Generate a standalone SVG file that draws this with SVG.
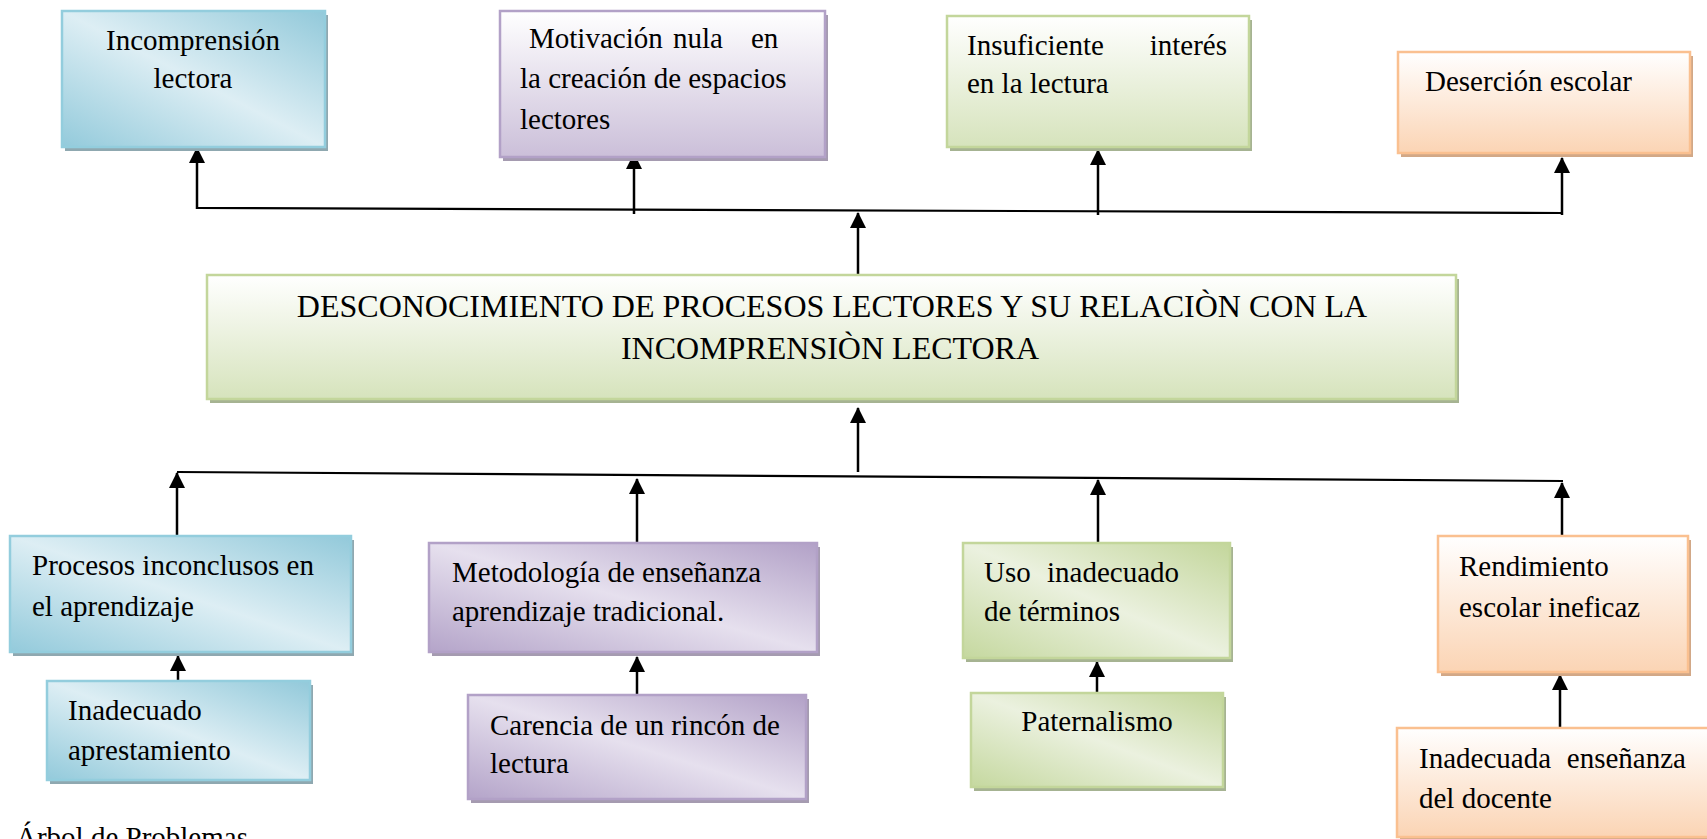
<svg xmlns="http://www.w3.org/2000/svg" width="1707" height="839" viewBox="0 0 1707 839">
<style>
.t{font-family:"Liberation Serif","Times New Roman",serif;font-size:29px;fill:#000}
.c{font-size:32px}
.m{text-anchor:middle}
.e{text-anchor:end}
.bl{stroke:#93cddd;stroke-width:2.5}
.pu{stroke:#b2a1c7;stroke-width:2.5}
.gr{stroke:#c3d69b;stroke-width:2.5}
.or{stroke:#fac090;stroke-width:2.5}
.sbl{fill:#8fa8b0}
.spu{fill:#a59bb0}
.sgr{fill:#a6b392}
.sor{fill:#d2a887}
.ln{stroke:#000;stroke-width:2.5;fill:none}
.hl{stroke:#000;stroke-width:2.2;fill:none}
</style>
<defs>
<linearGradient id="gBlueD" x1="0" y1="1" x2="1" y2="0">
<stop offset="0" stop-color="#93cadb"/><stop offset="0.5" stop-color="#ddeef4"/><stop offset="1" stop-color="#92c9da"/>
</linearGradient>
<linearGradient id="gPurD" x1="0" y1="1" x2="1" y2="0">
<stop offset="0" stop-color="#b4a4c9"/><stop offset="0.5" stop-color="#e6e0ee"/><stop offset="1" stop-color="#b2a1c7"/>
</linearGradient>
<linearGradient id="gGrnD" x1="0" y1="1" x2="1" y2="0">
<stop offset="0" stop-color="#c5d89f"/><stop offset="0.5" stop-color="#ebf1df"/><stop offset="1" stop-color="#c3d69b"/>
</linearGradient>
<linearGradient id="gGrnV" x1="0" y1="0" x2="0" y2="1">
<stop offset="0" stop-color="#ffffff"/><stop offset="1" stop-color="#d6e3bc"/>
</linearGradient>
<linearGradient id="gPurV" x1="0" y1="0" x2="0" y2="1">
<stop offset="0" stop-color="#ffffff"/><stop offset="1" stop-color="#cbbfd9"/>
</linearGradient>
<linearGradient id="gOrV" x1="0" y1="0" x2="0" y2="1">
<stop offset="0" stop-color="#ffffff"/><stop offset="1" stop-color="#fbd4b4"/>
</linearGradient>
<marker id="ah" markerUnits="userSpaceOnUse" markerWidth="16" markerHeight="16" viewBox="0 0 16 16" refX="15" refY="8" orient="auto">
<path d="M0,0 L16,8 L0,16 z" fill="#000"/>
</marker>
</defs>

<g id="connectors">
<path class="hl" d="M197,208 L1562,213"/>
<path class="ln" d="M197,209 L197,148" marker-end="url(#ah)"/>
<path class="ln" d="M634,214 L634,154" marker-end="url(#ah)"/>
<path class="ln" d="M1098,215 L1098,150" marker-end="url(#ah)"/>
<path class="ln" d="M1562,215 L1562,158" marker-end="url(#ah)"/>
<path class="ln" d="M858,276 L858,213" marker-end="url(#ah)"/>
<path class="hl" d="M177,472 L1563,481"/>
<path class="ln" d="M858,472 L858,408" marker-end="url(#ah)"/>
<path class="ln" d="M177,536 L177,473" marker-end="url(#ah)"/>
<path class="ln" d="M637,543 L637,479" marker-end="url(#ah)"/>
<path class="ln" d="M1098,543 L1098,480" marker-end="url(#ah)"/>
<path class="ln" d="M1562,536 L1562,483" marker-end="url(#ah)"/>
<path class="ln" d="M178,681 L178,656" marker-end="url(#ah)"/>
<path class="ln" d="M637,695 L637,657" marker-end="url(#ah)"/>
<path class="ln" d="M1097,693 L1097,662" marker-end="url(#ah)"/>
<path class="ln" d="M1560,728 L1560,675" marker-end="url(#ah)"/>
</g>

<g id="n-incomprension">
<rect class="sbl" x="65" y="15" width="263" height="136"/>
<rect class="bl" x="62" y="11" width="263" height="136" fill="url(#gBlueD)"/>
<text class="t m" x="193" y="50">Incomprensión</text>
<text class="t m" x="193" y="88">lectora</text>
</g>

<g id="n-motivacion">
<rect class="spu" x="503" y="15" width="325" height="146"/>
<rect class="pu" x="500" y="11" width="325" height="146" fill="url(#gPurV)"/>
<text class="t" x="529" y="48">Motivación</text>
<text class="t" x="673" y="48">nula</text>
<text class="t" x="751" y="48">en</text>
<text class="t" x="520" y="88">la creación de espacios</text>
<text class="t" x="520" y="129">lectores</text>
</g>

<g id="n-insuficiente">
<rect class="sgr" x="950" y="20" width="302" height="131"/>
<rect class="gr" x="947" y="16" width="302" height="131" fill="url(#gGrnV)"/>
<text class="t" x="967" y="55">Insuficiente</text>
<text class="t e" x="1227" y="55">interés</text>
<text class="t" x="967" y="93">en la lectura</text>
</g>

<g id="n-desercion">
<rect class="sor" x="1401" y="56" width="292" height="101"/>
<rect class="or" x="1398" y="52" width="292" height="101" fill="url(#gOrV)"/>
<text class="t" x="1425" y="91">Deserción escolar</text>
</g>

<g id="n-central">
<rect class="sgr" x="210" y="279" width="1249" height="124"/>
<rect class="gr" x="207" y="275" width="1249" height="124" fill="url(#gGrnV)"/>
<text class="t c m" x="832" y="317">DESCONOCIMIENTO DE PROCESOS LECTORES Y SU RELACIÒN CON LA</text>
<text class="t c m" x="830" y="359">INCOMPRENSIÒN LECTORA</text>
</g>

<g id="n-procesos">
<rect class="sbl" x="13" y="540" width="341" height="116"/>
<rect class="bl" x="10" y="536" width="341" height="116" fill="url(#gBlueD)"/>
<text class="t" x="32" y="575">Procesos inconclusos en</text>
<text class="t" x="32" y="616">el aprendizaje</text>
</g>

<g id="n-inadecuado">
<rect class="sbl" x="50" y="685" width="263" height="99"/>
<rect class="bl" x="47" y="681" width="263" height="99" fill="url(#gBlueD)"/>
<text class="t" x="68" y="720">Inadecuado</text>
<text class="t" x="68" y="760">aprestamiento</text>
</g>

<g id="n-metodologia">
<rect class="spu" x="432" y="547" width="388" height="109"/>
<rect class="pu" x="429" y="543" width="388" height="109" fill="url(#gPurD)"/>
<text class="t" x="452" y="582">Metodología de enseñanza</text>
<text class="t" x="452" y="621">aprendizaje tradicional.</text>
</g>

<g id="n-carencia">
<rect class="spu" x="471" y="699" width="338" height="104"/>
<rect class="pu" x="468" y="695" width="338" height="104" fill="url(#gPurD)"/>
<text class="t" x="490" y="735">Carencia de un rincón de</text>
<text class="t" x="490" y="773">lectura</text>
</g>

<g id="n-uso">
<rect class="sgr" x="966" y="547" width="267" height="115"/>
<rect class="gr" x="963" y="543" width="267" height="115" fill="url(#gGrnD)"/>
<text class="t" x="984" y="582">Uso</text>
<text class="t e" x="1179" y="582">inadecuado</text>
<text class="t" x="984" y="621">de términos</text>
</g>

<g id="n-paternalismo">
<rect class="sgr" x="974" y="697" width="252" height="94"/>
<rect class="gr" x="971" y="693" width="252" height="94" fill="url(#gGrnD)"/>
<text class="t m" x="1097" y="731">Paternalismo</text>
</g>

<g id="n-rendimiento">
<rect class="sor" x="1441" y="540" width="250" height="136"/>
<rect class="or" x="1438" y="536" width="250" height="136" fill="url(#gOrV)"/>
<text class="t" x="1459" y="576">Rendimiento</text>
<text class="t" x="1459" y="617">escolar ineficaz</text>
</g>

<g id="n-inadecuada">
<rect class="sor" x="1400" y="732" width="320" height="109"/>
<rect class="or" x="1397" y="728" width="320" height="109" fill="url(#gOrV)"/>
<text class="t" x="1419" y="768">Inadecuada</text>
<text class="t e" x="1686" y="768">enseñanza</text>
<text class="t" x="1419" y="808">del docente</text>
</g>

<g id="caption">
<text class="t" x="16" y="847">Árbol de Problemas</text>
</g>
</svg>
